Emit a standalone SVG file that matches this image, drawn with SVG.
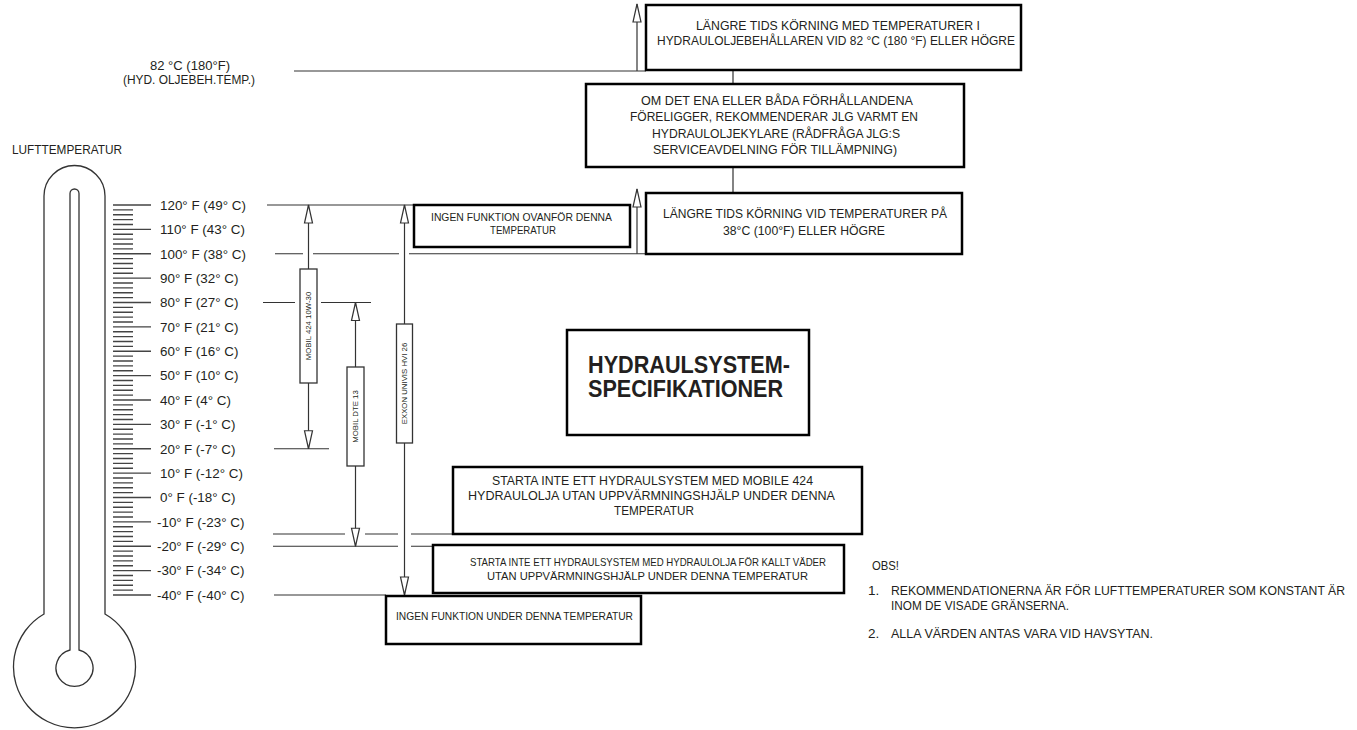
<svg xmlns="http://www.w3.org/2000/svg" width="1357" height="730" viewBox="0 0 1357 730">
  <style>
    .t { font-family: "Liberation Sans", Arial, sans-serif; fill: #231f20; }
    .s { font-size: 13.4px; }
    .m { font-size: 13.5px; }
    .sm { font-size: 11.5px; }
    .v { font-size: 7.8px; }
    .ln { stroke: #333; stroke-width: 1.2; fill: none; }
    .arr { stroke: #333; stroke-width: 1.2; fill: none; marker-end: url(#ah); }
    .box { fill: #fff; stroke: #000; stroke-width: 2.5; }
    .tag { fill: #fff; stroke: #333; stroke-width: 1.3; }
    .therm { fill: none; stroke: #333; stroke-width: 1.3; }
    .tick { stroke: #444; stroke-width: 1.3; fill: none; }
  </style>
  <defs>
    <!-- hollow triangular arrowhead used on all range arrows -->
    <marker id="ah" viewBox="-1 -1 20 10" refX="18" refY="4" markerWidth="20" markerHeight="10" markerUnits="userSpaceOnUse" orient="auto" overflow="visible">
      <path d="M0,0 L18,4 L0,8 Z" fill="#fff" stroke="#333" stroke-width="1.2"/>
    </marker>
  </defs>
  <rect width="1357" height="730" fill="#fff"/>

  <!-- thermometer -->
  <g id="thermometer">
    <text class="t" x="12" y="154" font-size="13.5" textLength="110" lengthAdjust="spacingAndGlyphs">LUFTTEMPERATUR</text>
    <path class="therm" d="M44,614 V196 A30.5,30.5 0 0 1 105,196 V614 A61,61 0 1 1 44,614 Z"/>
    <path class="therm" d="M70,650 V193.5 A4.5,4.5 0 0 1 79,193.5 V650 A18.5,18.5 0 1 1 70,650 Z"/>
  </g>

  <!-- temperature scale: major ticks every 10 °F, minor every 2 °F -->
  <g id="scale">
    <path class="tick" d="M113,205H151 M113,229.375H151 M113,253.75H151 M113,278.125H151 M113,302.5H151 M113,326.875H151 M113,351.25H151 M113,375.625H151 M113,400H151 M113,424.375H151 M113,448.75H151 M113,473.125H151 M113,497.5H151 M113,521.875H151 M113,546.25H151 M113,570.625H151 M113,595H151"/>
    <path class="tick" d="M113,209.875H133 M113,214.75H133 M113,219.625H133 M113,224.5H133
      M113,234.25H133 M113,239.125H133 M113,244H133 M113,248.875H133
      M113,258.625H133 M113,263.5H133 M113,268.375H133 M113,273.25H133
      M113,283H133 M113,287.875H133 M113,292.75H133 M113,297.625H133
      M113,307.375H133 M113,312.25H133 M113,317.125H133 M113,322H133
      M113,331.75H133 M113,336.625H133 M113,341.5H133 M113,346.375H133
      M113,356.125H133 M113,361H133 M113,365.875H133 M113,370.75H133
      M113,380.5H133 M113,385.375H133 M113,390.25H133 M113,395.125H133
      M113,404.875H133 M113,409.75H133 M113,414.625H133 M113,419.5H133
      M113,429.25H133 M113,434.125H133 M113,439H133 M113,443.875H133
      M113,453.625H133 M113,458.5H133 M113,463.375H133 M113,468.25H133
      M113,478H133 M113,482.875H133 M113,487.75H133 M113,492.625H133
      M113,502.375H133 M113,507.25H133 M113,512.125H133 M113,517H133
      M113,526.75H133 M113,531.625H133 M113,536.5H133 M113,541.375H133
      M113,551.125H133 M113,556H133 M113,560.875H133 M113,565.75H133
      M113,575.5H133 M113,580.375H133 M113,585.25H133 M113,590.125H133"/>
    <g class="t s">
      <text x="160" y="209.7">120° F (49° C)</text>
      <text x="160" y="234.1">110° F (43° C)</text>
      <text x="160" y="258.5">100° F (38° C)</text>
      <text x="160" y="282.8">90° F (32° C)</text>
      <text x="160" y="307.2">80° F (27° C)</text>
      <text x="160" y="331.6">70° F (21° C)</text>
      <text x="160" y="356">60° F (16° C)</text>
      <text x="160" y="380.3">50° F (10° C)</text>
      <text x="160" y="404.7">40° F (4° C)</text>
      <text x="160" y="429.1">30° F (-1° C)</text>
      <text x="160" y="453.5">20° F (-7° C)</text>
      <text x="160" y="477.8">10° F (-12° C)</text>
      <text x="160" y="502.2">0° F (-18° C)</text>
      <text x="157" y="526.6">-10° F (-23° C)</text>
      <text x="157" y="551">-20° F (-29° C)</text>
      <text x="157" y="575.3">-30° F (-34° C)</text>
      <text x="157" y="599.7">-40° F (-40° C)</text>
    </g>
  </g>

  <!-- reservoir temperature reference -->
  <g id="reservoir-label" class="t" font-size="12.5" text-anchor="middle">
    <text x="190" y="70" textLength="80" lengthAdjust="spacingAndGlyphs">82 °C (180°F)</text>
    <text x="189" y="84" textLength="132" lengthAdjust="spacingAndGlyphs">(HYD. OLJEBEH.TEMP.)</text>
  </g>

  <!-- connectors: limit lines and range arrows -->
  <g id="connectors">
    <path class="ln" d="M294,71 H646"/>
    <path class="arr" d="M637,71 V4"/>
    <path class="ln" d="M733,70 V84 M733,167 V193"/>
    <!-- 120 °F -->
    <path class="ln" d="M267,205 H414"/>
    <!-- 100 °F -->
    <path class="ln" d="M275,253.75 H303 M313,253.75 H399 M409,253.75 H646"/>
    <path class="arr" d="M637,253.75 V189"/>
    <!-- 80 °F and 20 °F -->
    <path class="ln" d="M263,302.5 H295 M321,302.5 H371"/>
    <path class="ln" d="M274,448.75 H329"/>
    <!-- -15 °F, -20 °F, -40 °F -->
    <path class="ln" d="M273,534 H345 M365,534 H398 M411,534 H453"/>
    <path class="ln" d="M273,546.25 H398 M411,546.25 H433"/>
    <path class="ln" d="M274,595 H386"/>
    <!-- oil grade ranges -->
    <path class="arr" d="M308.5,269 V205"/>
    <path class="arr" d="M308.5,383 V448.75"/>
    <path class="arr" d="M355.5,367 V302.5"/>
    <path class="arr" d="M355.5,466 V546.25"/>
    <path class="arr" d="M404.5,324 V205"/>
    <path class="arr" d="M404.5,443 V595"/>
  </g>

  <!-- oil grade tags -->
  <g id="mobil-424">
    <rect class="tag" x="300" y="269" width="17" height="114"/>
    <text class="t v" transform="translate(308.5,326) rotate(-90)" x="0" y="2.8" text-anchor="middle">MOBIL 424 10W-30</text>
  </g>
  <g id="mobil-dte-13">
    <rect class="tag" x="347" y="367" width="17" height="99"/>
    <text class="t v" transform="translate(355.5,416.5) rotate(-90)" x="0" y="2.8" text-anchor="middle">MOBIL DTE 13</text>
  </g>
  <g id="exxon-univis">
    <rect class="tag" x="396.5" y="324" width="16" height="119"/>
    <text class="t v" transform="translate(404.5,383.5) rotate(-90)" x="0" y="2.8" text-anchor="middle">EXXON UNIVIS HVI 26</text>
  </g>

  <!-- high temperature notes -->
  <g id="reservoir-hot">
    <rect class="box" x="646" y="5" width="375" height="65"/>
    <text class="t m" x="838" y="30" text-anchor="middle" textLength="284" lengthAdjust="spacingAndGlyphs">LÄNGRE TIDS KÖRNING MED TEMPERATURER I</text>
    <text class="t m" x="836" y="45" text-anchor="middle" textLength="358" lengthAdjust="spacingAndGlyphs">HYDRAULOLJEBEHÅLLAREN VID 82 °C (180 °F) ELLER HÖGRE</text>
  </g>
  <g id="cooler-advice">
    <rect class="box" x="586" y="84" width="378" height="83"/>
    <text class="t m" x="777" y="104.5" text-anchor="middle" textLength="272" lengthAdjust="spacingAndGlyphs">OM DET ENA ELLER BÅDA FÖRHÅLLANDENA</text>
    <text class="t m" x="774" y="121" text-anchor="middle" textLength="288" lengthAdjust="spacingAndGlyphs">FÖRELIGGER, REKOMMENDERAR JLG VARMT EN</text>
    <text class="t m" x="776" y="137.5" text-anchor="middle" textLength="248" lengthAdjust="spacingAndGlyphs">HYDRAULOLJEKYLARE (RÅDFRÅGA JLG:S</text>
    <text class="t m" x="775" y="154" text-anchor="middle" textLength="244" lengthAdjust="spacingAndGlyphs">SERVICEAVDELNING FÖR TILLÄMPNING)</text>
  </g>
  <g id="ambient-hot">
    <rect class="box" x="646" y="193" width="316" height="61"/>
    <text class="t m" x="805" y="218" text-anchor="middle" textLength="284" lengthAdjust="spacingAndGlyphs">LÄNGRE TIDS KÖRNING VID TEMPERATURER PÅ</text>
    <text class="t m" x="804" y="235" text-anchor="middle" textLength="162" lengthAdjust="spacingAndGlyphs">38°C (100°F) ELLER HÖGRE</text>
  </g>
  <g id="no-operation-above">
    <rect class="box" x="414" y="205" width="216" height="42"/>
    <text class="t sm" x="521.5" y="221" text-anchor="middle" textLength="181" lengthAdjust="spacingAndGlyphs">INGEN FUNKTION OVANFÖR DENNA</text>
    <text class="t sm" x="523" y="233.5" text-anchor="middle" textLength="66" lengthAdjust="spacingAndGlyphs">TEMPERATUR</text>
  </g>

  <!-- title -->
  <g id="title">
    <rect class="box" x="567" y="330" width="242" height="105"/>
    <text class="t" x="689" y="373" font-size="23" font-weight="bold" text-anchor="middle" textLength="202" lengthAdjust="spacingAndGlyphs">HYDRAULSYSTEM-</text>
    <text class="t" x="685.5" y="397" font-size="23" font-weight="bold" text-anchor="middle" textLength="195" lengthAdjust="spacingAndGlyphs">SPECIFIKATIONER</text>
  </g>

  <!-- low temperature notes -->
  <g id="mobil-424-cold">
    <rect class="box" x="453" y="467" width="409" height="67"/>
    <text class="t m" x="652.5" y="485" text-anchor="middle" textLength="321" lengthAdjust="spacingAndGlyphs">STARTA INTE ETT HYDRAULSYSTEM MED MOBILE 424</text>
    <text class="t m" x="651.5" y="500" text-anchor="middle" textLength="367" lengthAdjust="spacingAndGlyphs">HYDRAULOLJA UTAN UPPVÄRMNINGSHJÄLP UNDER DENNA</text>
    <text class="t m" x="654" y="515" text-anchor="middle" textLength="80" lengthAdjust="spacingAndGlyphs">TEMPERATUR</text>
  </g>
  <g id="cold-weather-oil">
    <rect class="box" x="433" y="545" width="411" height="48"/>
    <text class="t sm" x="648" y="566" text-anchor="middle" textLength="356" lengthAdjust="spacingAndGlyphs">STARTA INTE ETT HYDRAULSYSTEM MED HYDRAULOLJA FÖR KALLT VÄDER</text>
    <text class="t sm" x="647.5" y="580" text-anchor="middle" textLength="321" lengthAdjust="spacingAndGlyphs">UTAN UPPVÄRMNINGSHJÄLP UNDER DENNA TEMPERATUR</text>
  </g>
  <g id="no-operation-below">
    <rect class="box" x="386" y="596" width="255" height="48"/>
    <text class="t sm" x="514.5" y="620" text-anchor="middle" textLength="237" lengthAdjust="spacingAndGlyphs">INGEN FUNKTION UNDER DENNA TEMPERATUR</text>
  </g>

  <!-- notes -->
  <g id="notes" class="t m">
    <text x="872" y="570" textLength="27" lengthAdjust="spacingAndGlyphs">OBS!</text>
    <text x="868" y="595">1.</text>
    <text x="891" y="595" textLength="454" lengthAdjust="spacingAndGlyphs">REKOMMENDATIONERNA ÄR FÖR LUFTTEMPERATURER SOM KONSTANT ÄR</text>
    <text x="891" y="610" textLength="178" lengthAdjust="spacingAndGlyphs">INOM DE VISADE GRÄNSERNA.</text>
    <text x="868" y="638">2.</text>
    <text x="891" y="638" textLength="262" lengthAdjust="spacingAndGlyphs">ALLA VÄRDEN ANTAS VARA VID HAVSYTAN.</text>
  </g>
</svg>
